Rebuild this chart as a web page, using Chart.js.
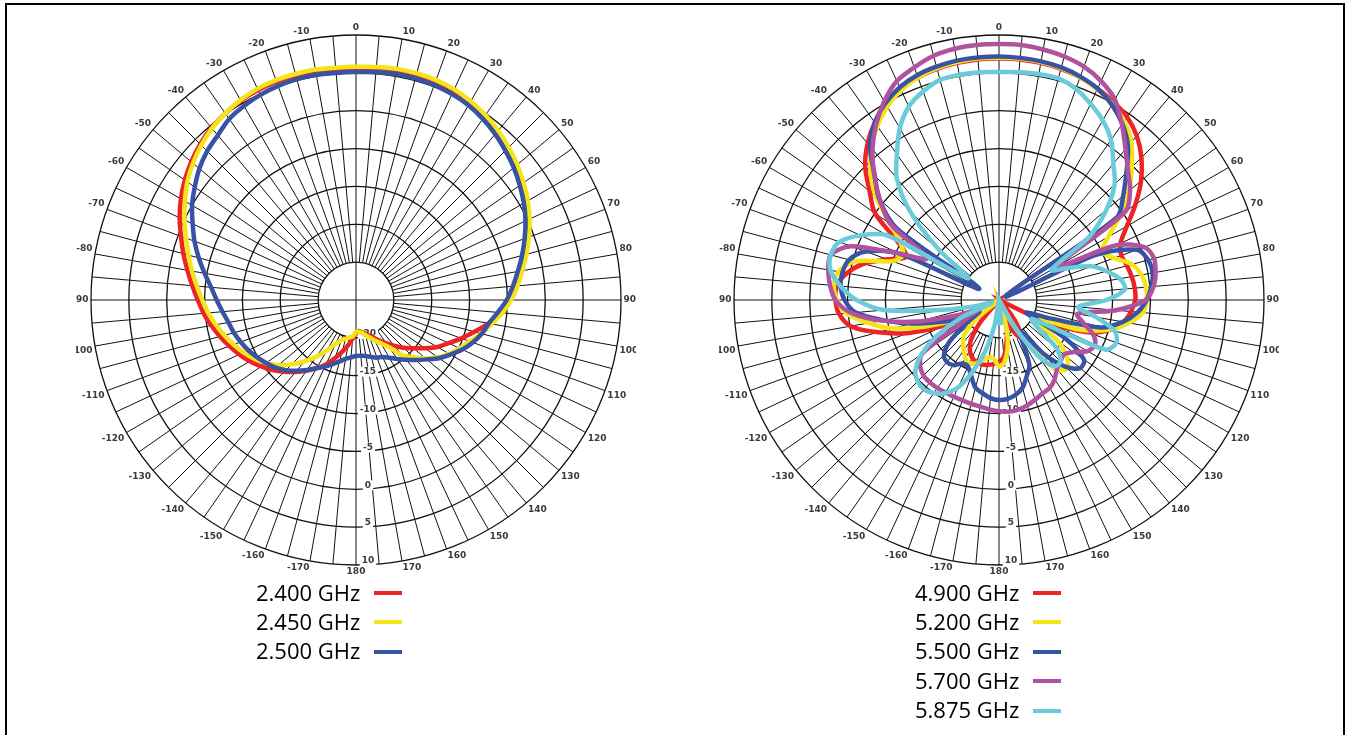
<!DOCTYPE html>
<html>
<head>
<meta charset="utf-8">
<script src="https://cdn.jsdelivr.net/npm/chart.js@4.4.0/dist/chart.umd.min.js"></script>
<style>
  body { margin: 0; background: #fff; width: 1348px; height: 735px; overflow: hidden; position: relative; }
  .frame { position: absolute; left: 5px; top: 3px; width: 1340px; height: 800px; box-sizing: border-box; border: 2.5px solid #000; }
  .polar-graph { position: absolute; top: 20px; width: 560px; height: 560px; }
  .legend { position: absolute; top: 577.5px; font-family: 'Open Sans', sans-serif; font-size: 22px; color: #000; }
  .legend div { position: relative; height: 29.4px; line-height: 29.4px; white-space: nowrap; }
  .legend span { position: absolute; top: 13.5px; width: 28px; height: 4px; }
</style>
</head>
<body>
<div class="frame"></div>
<div class="polar-graph low-band" style="left:76px"></div>
<div class="polar-graph high-band" style="left:719px"></div>
<div class="legend low-legend" style="left:256px"></div>
<div class="legend high-legend" style="left:915px"></div>

<script>
// azimuth of every sample, degrees clockwise from 0 (top), 5 degree steps
const angles = [];
for (let a = 0; a < 360; a += 5) angles.push(a);

// printed azimuth labels: right side 10..180, left side -10..-170
const angleLabels = angles.map(a => a % 10 === 0 ? String(a <= 180 ? a : a - 360) : '');

const gainTicks = [-20, -15, -10, -5, 0, 5, 10];

// 2.4 GHz band, dB, one row per 30 degrees
const gain2400 = [
  5.5, 5.6, 5.7, 5.8, 5.7, 5.5,
  5.1, 4.6, 4.0, 3.3, 2.6, 1.8,
  1.0, 0.1, -0.9, -1.9, -2.9, -3.8,
  -4.7, -5.8, -7.2, -8.8, -10.2, -11.5,
  -12.6, -13.9, -15.1, -16.1, -17.1, -18.0,
  -18.8, -19.5, -20.0, -20.4, -20.7, -20.9,
  -20.6, -19.9, -18.9, -17.9, -16.8, -15.6,
  -14.6, -13.6, -12.6, -11.6, -10.6, -9.7,
  -8.8, -8.0, -7.2, -6.4, -5.6, -4.8,
  -4.1, -3.3, -2.4, -1.4, -0.4, 0.7,
  1.7, 2.6, 3.4, 4.1, 4.7, 5.1,
  5.4, 5.6, 5.7, 5.7, 5.6, 5.5];
const gain2450 = [
  5.8, 5.9, 6.0, 6.0, 5.9, 5.7,
  5.3, 4.8, 4.2, 3.5, 2.8, 2.0,
  1.2, 0.3, -0.7, -1.7, -2.7, -3.6,
  -4.5, -5.6, -6.8, -7.9, -9.0, -9.9,
  -10.8, -11.8, -13.0, -14.3, -15.5, -17.4,
  -18.4, -19.1, -19.7, -20.2, -20.6, -20.8,
  -20.8, -20.2, -20.0, -19.7, -19.3, -18.6,
  -17.3, -15.8, -14.4, -13.0, -11.6, -10.5,
  -9.5, -8.6, -7.8, -7.0, -6.2, -5.4,
  -4.7, -3.9, -3.0, -2.1, -1.1, 0.0,
  1.1, 2.2, 3.1, 3.9, 4.6, 5.1,
  5.5, 5.8, 5.9, 5.9, 5.9, 5.8];
const gain2500 = [
  5.1, 5.2, 5.3, 5.3, 5.2, 5.0,
  4.7, 4.2, 3.6, 2.9, 2.2, 1.4,
  0.6, -0.3, -1.3, -2.3, -3.3, -4.2,
  -5.1, -6.2, -7.2, -7.8, -8.6, -9.5,
  -10.6, -11.6, -12.8, -13.8, -14.7, -15.5,
  -16.2, -16.7, -16.9, -17.2, -17.5, -17.6,
  -17.6, -17.4, -17.1, -16.6, -16.0, -15.3,
  -14.6, -13.7, -12.8, -11.9, -11.1, -10.5,
  -9.9, -9.3, -8.8, -8.3, -7.9, -7.3,
  -6.6, -5.8, -4.7, -3.5, -2.3, -1.2,
  0.0, 1.0, 2.0, 2.8, 3.4, 4.2,
  4.6, 4.9, 5.1, 5.2, 5.2, 5.1];

// 5 GHz band, dB (-25 sits on the centre)
const gain4900 = [
  6.9, 6.9, 6.8, 6.6, 6.3, 5.8,
  5.2, 4.5, 3.3, 1.6, -0.5, -3.0,
  -5.5, -7.3, -7.8, -7.5, -7.2, -7.0,
  -7.0, -7.5, -8.3, -9.8, -12.5, -18.5,
  -25, -25, -25, -25, -22.5, -20.5,
  -19.2, -20.5, -23, -21, -19.3, -17.5,
  -16.8, -16.5, -16.3, -16.2, -16.3, -16.6,
  -17.3, -18.5, -21, -25, -25, -25,
  -21, -17, -12.3, -8.5, -5.1, -3.8,
  -3.4, -3.5, -4.6, -6.5, -9.3, -11.5,
  -9.5, -5.0, -2.7, 0.0, 2.0, 3.6,
  4.8, 5.7, 6.3, 6.6, 6.8, 6.9];
const gain5200 = [
  7.0, 7.0, 6.9, 6.7, 6.3, 5.7,
  4.9, 3.8, 2.2, -0.2, -2.6, -5.4,
  -8.3, -10.0, -8.8, -6.8, -5.9, -5.5,
  -5.5, -5.9, -7.6, -9.9, -13.5, -19,
  -19, -15.5, -13.3, -12.2, -13.0, -16.5,
  -21, -25, -25, -21, -18.5, -16.8,
  -16.2, -17.2, -17.3, -16.8, -16.1, -15.8,
  -16.1, -16.9, -17.6, -18.5, -21, -25,
  -22.5, -19, -14.9, -10.5, -7.5, -4.8,
  -3.6, -3.1, -3.5, -5.3, -10.0, -11.0,
  -10.0, -7.5, -3.8, -1.0, 1.3, 3.0,
  4.5, 5.6, 6.3, 6.7, 6.9, 7.0];
const gain5500 = [
  7.15, 7.1, 7.0, 6.8, 6.4, 5.8,
  4.8, 3.4, 1.5, -1.2, -3.6, -6.0,
  -24, -11, -5.6, -4.6, -4.4, -4.8,
  -5.5, -6.6, -8.4, -11, -18, -21,
  -15, -11.3, -11, -12.5, -15.5, -20,
  -19, -15.5, -14.3, -13.0, -12.3, -11.9,
  -11.8, -12.0, -12.5, -13.0, -14.3, -15.3,
  -15.3, -14.5, -14.3, -14.7, -16.5, -20,
  -22, -19, -16.5, -13, -9.5, -6.0,
  -4.6, -4.0, -4.0, -4.5, -6.3, -10.5,
  -22, -8.5, -4.4, -1.8, 1.5, 3.6,
  5.0, 6.0, 6.6, 6.9, 7.1, 7.15];
const gain5700 = [
  8.8, 8.8, 8.6, 8.3, 7.8, 6.9,
  5.6, 3.3, 1.0, -0.9, -2.4, -4.6,
  -16, -7.9, -4.6, -3.8, -4.0, -4.5,
  -5.6, -9.5, -14.5, -13.5, -11.8, -11.0,
  -11.5, -13.0, -13.8, -13.5, -13.1, -12.2,
  -11.6, -11.4, -11.0, -10.6, -10.3, -10.2,
  -10.3, -10.5, -10.7, -10.8, -10.9, -10.9,
  -10.9, -10.8, -10.8, -10.9, -11.4, -12.6,
  -20, -22, -19, -14.0, -9.3, -5.4,
  -3.4, -2.6, -2.1, -2.0, -4.2, -10.5,
  -14, -7.5, -4.5, -1.7, 1.0, 3.3,
  5.3, 6.9, 7.7, 8.4, 8.7, 8.8];
const gain5875 = [
  5.1, 5.2, 5.3, 5.3, 4.7, 3.6,
  2.4, 0.8, -1.5, -3.4, -6.5, -10.5,
  -17, -15, -12, -10.3, -8.8, -8.3,
  -10.8, -14.5, -12, -9.2, -8.5, -9.5,
  -20, -19, -15, -13.5, -13.6, -16,
  -21, -25, -25, -25, -25, -22,
  -22, -25, -21.5, -18, -15, -12.3,
  -10.8, -10.0, -9.6, -9.8, -10.6, -12.5,
  -15.5, -19.5, -24, -22, -17.6, -9.8,
  -6.2, -4.0, -2.4, -2.0, -2.6, -4.8,
  -8.0, -20, -14.5, -8.3, -4.0, -1.5,
  1.2, 3.2, 4.3, 5.1, 5.2, 5.2];

const lowBand = [
  { label: '2.400 GHz', data: gain2400, color: '#ee2326' },
  { label: '2.450 GHz', data: gain2450, color: '#f4e51b' },
  { label: '2.500 GHz', data: gain2500, color: '#3953a4' }
];
const highBand = [
  { label: '4.900 GHz', data: gain4900, color: '#ee2326' },
  { label: '5.200 GHz', data: gain5200, color: '#f4e51b' },
  { label: '5.500 GHz', data: gain5500, color: '#3953a4' },
  { label: '5.700 GHz', data: gain5700, color: '#b1529f' },
  { label: '5.875 GHz', data: gain5875, color: '#6ccbdb' }
];

const labelFont = 'bold 9px "DejaVu Sans", sans-serif';

// spokes with a hole in the middle, gain labels down the 180 spoke, azimuth labels round the rim
const polarGrid = {
  id: 'polarGrid',
  beforeDatasetsDraw(chart) {
    const scale = chart.scales.r;
    const ctx = chart.ctx;
    const inner = scale.getDistanceFromCenterForValue(-20);
    const outer = scale.getDistanceFromCenterForValue(10);
    ctx.save();
    ctx.strokeStyle = '#111';
    ctx.lineWidth = 1;
    angles.forEach((a, i) => {
      const p0 = scale.getPointPosition(i, a % 90 === 0 ? 0 : inner);
      const p1 = scale.getPointPosition(i, outer);
      ctx.beginPath();
      ctx.moveTo(p0.x, p0.y);
      ctx.lineTo(p1.x, p1.y);
      ctx.stroke();
    });

    ctx.font = labelFont;
    ctx.textBaseline = 'middle';
    ctx.textAlign = 'center';
    gainTicks.forEach(v => {
      const d = scale.getDistanceFromCenterForValue(v);
      const x = scale.xCenter + 12;
      const y = scale.yCenter + d - 4;
      const w = ctx.measureText(String(v)).width;
      ctx.fillStyle = '#fff';
      ctx.fillRect(x - w / 2 - 2, y - 5, w + 4, 10);
      ctx.fillStyle = '#3a3a3a';
      ctx.fillText(String(v), x, y);
    });

    angles.forEach((a, i) => {
      if (!angleLabels[i]) return;
      const p = scale.getPointPosition(i, outer + 2.5);
      ctx.textAlign = (a === 0 || a === 180) ? 'center' : (a < 180 ? 'left' : 'right');
      ctx.textBaseline = (a === 90 || a === 270) ? 'middle' : ((a < 90 || a > 270) ? 'bottom' : 'top');
      ctx.fillStyle = '#3a3a3a';
      ctx.fillText(angleLabels[i], p.x, p.y);
    });
    ctx.restore();
  }
};

function createPolarGraph(selector, series) {
  let container = document.querySelector(selector);
  container.innerHTML = "";

  let newCanvas = document.createElement('canvas');
  newCanvas.width = 560;
  newCanvas.height = 560;
  container.appendChild(newCanvas);

  // first entry is painted last, so the list runs top layer first
  let sets = series.slice().reverse().map(s => ({
    label: s.label,
    data: s.data,
    borderColor: s.color,
    borderWidth: 4.5,
    pointRadius: 0,
    fill: false,
    tension: 0.3
  }));

  return new Chart(newCanvas, {
    type: 'radar',
    data: { labels: angleLabels, datasets: sets },
    options: {
      responsive: false,
      animation: false,
      layout: { padding: 15 },
      plugins: { legend: { display: false }, tooltip: { enabled: false } },
      scales: {
        r: {
          min: -25,
          max: 10,
          ticks: { stepSize: 5, display: false },
          grid: {
            circular: true,
            lineWidth: 1.3,
            color: c => c.tick && c.tick.value === -25 ? 'rgba(0,0,0,0)' : '#111'
          },
          angleLines: { display: false },
          pointLabels: { display: false }
        }
      }
    },
    plugins: [polarGrid]
  });
}

function createLegend(selector, series) {
  let box = document.querySelector(selector);
  box.innerHTML = "";
  series.forEach(s => {
    let row = document.createElement('div');
    row.textContent = s.label;
    let swatch = document.createElement('span');
    swatch.style.left = '118px';
    swatch.style.background = s.color;
    row.appendChild(swatch);
    box.appendChild(row);
  });
}

createPolarGraph('.low-band', lowBand);
createPolarGraph('.high-band', highBand);
createLegend('.low-legend', lowBand);
createLegend('.high-legend', highBand);
</script>
</body>
</html>
